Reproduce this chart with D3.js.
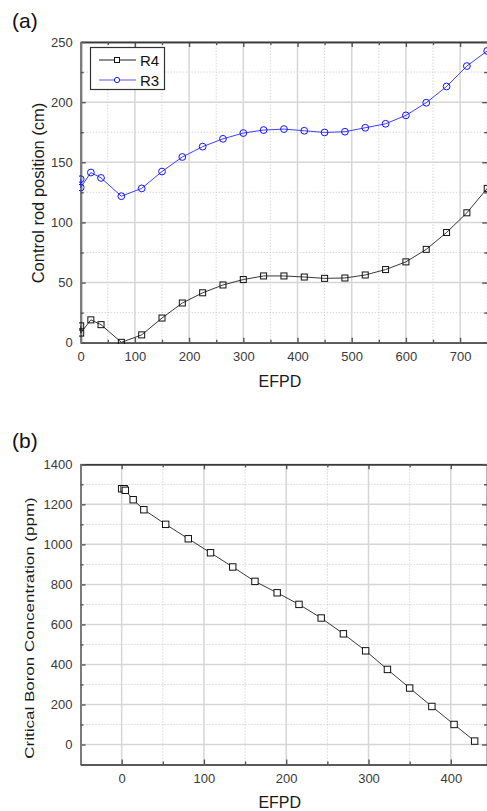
<!DOCTYPE html>
<html>
<head>
<meta charset="utf-8">
<script src="https://cdn.jsdelivr.net/npm/d3@7"></script>
<style>
  body { margin: 0; background: #fff; }
  svg text { font-family: "Liberation Sans", Arial, sans-serif; }
  .tickLbl { fill: #3a3a3a; font-size: 13px; }
  .aTitle { fill: #1a1a1a; font-size: 16px; }
</style>
</head>
<body>
<div id="chart"></div>
<script>
// panel (a) data - control rod positions
var efpdA = [0, 0, 18.75, 37.5, 75, 112.5, 150, 187.5, 225, 262.5, 300, 337.5, 375, 412.5, 450, 487.5, 525, 562.5, 600, 637.5, 675, 712.5, 750];
var r4 = [14, 8, 19, 15, 0.3, 6.5, 20.5, 33, 41.5, 48, 52.5, 55.5, 55.5, 54.6, 53.5, 53.8, 56.3, 60.8, 67.2, 77.6, 91.6, 108, 128.3];
var r3 = [136, 129, 141.5, 137, 121.8, 128.3, 142.3, 154.4, 163, 169.5, 174.3, 176.8, 177.6, 176.2, 174.8, 175.4, 178.7, 182, 189, 199.5, 213, 230, 242.6];

// panel (b) data - critical boron
var efpdB = [0, 3, 4.5, 14, 27, 53.5, 81, 108, 135, 162, 189, 215.5, 242.5, 269.5, 296.5, 323, 350, 377, 404, 429];
var boron = [1278, 1278, 1270, 1223, 1173, 1100, 1028, 958, 887, 815, 758, 700, 632, 553, 468, 375, 282, 190, 100, 17];

var xTicksA = [0, 100, 200, 300, 400, 500, 600, 700];
var xMinorA = [50, 150, 250, 350, 450, 550, 650, 750];
var yTicksA = [0, 50, 100, 150, 200, 250];
var yMinorA = [25, 75, 125, 175, 225];

var xTicksB = [0, 100, 200, 300, 400];
var xMinorB = [-50, 50, 150, 250, 350];
var yTicksB = [0, 200, 400, 600, 800, 1000, 1200, 1400];
var yMinorB = [-100, 100, 300, 500, 700, 900, 1100, 1300];

var svgWidth = 487, svgHeight = 811;

var svg = d3.select("#chart")
  .append("svg")
  .attr("width", svgWidth)
  .attr("height", svgHeight);

function drawFrame(x, y, o) {
  var x0 = x.range()[0], x1 = x.range()[1];
  var y0 = y.range()[0], y1 = y.range()[1];
  var g = svg.append("g");

  // grid
  g.selectAll(".gxm").data(o.xMinor).enter().append("line")
    .attr("x1", d => x(d)).attr("x2", d => x(d)).attr("y1", y0).attr("y2", y1)
    .attr("stroke", "#c4c4c4").attr("stroke-width", 1).attr("stroke-dasharray", "1,2");
  g.selectAll(".gym").data(o.yMinor).enter().append("line")
    .attr("x1", x0).attr("x2", x1).attr("y1", d => y(d)).attr("y2", d => y(d))
    .attr("stroke", "#c4c4c4").attr("stroke-width", 1).attr("stroke-dasharray", "1,2");
  g.selectAll(".gx").data(o.xTicks).enter().append("line")
    .attr("x1", d => x(d)).attr("x2", d => x(d)).attr("y1", y0).attr("y2", y1)
    .attr("stroke", "#d6d6d6").attr("stroke-width", 1.5);
  g.selectAll(".gy").data(o.yTicks).enter().append("line")
    .attr("x1", x0).attr("x2", x1).attr("y1", d => y(d)).attr("y2", d => y(d))
    .attr("stroke", "#d6d6d6").attr("stroke-width", 1.5);

  // axes: major ticks + minor ticks, all pointing inward
  var fmt = d3.format("d");
  var axes = [
    [d3.axisBottom(x).tickValues(o.xTicks).tickSize(-5).tickPadding(9).tickFormat(fmt), `translate(0,${y0})`, true, "#5a5a5a", 1.8],
    [d3.axisBottom(x).tickValues(o.xMinor).tickSize(-3).tickFormat(""), `translate(0,${y0})`, false, "#5a5a5a", 1.8],
    [d3.axisTop(x).tickValues(o.xTicks).tickSize(-5).tickFormat(""), `translate(0,${y1})`, false, "#3a3a3a", 1.4],
    [d3.axisTop(x).tickValues(o.xMinor).tickSize(-3).tickFormat(""), `translate(0,${y1})`, false, "#3a3a3a", 1.4],
    [d3.axisLeft(y).tickValues(o.yTicks).tickSize(-5).tickPadding(8).tickFormat(fmt), `translate(${x0},0)`, true, "#7a7a7a", 2],
    [d3.axisLeft(y).tickValues(o.yMinor).tickSize(-3).tickFormat(""), `translate(${x0},0)`, false, "#7a7a7a", 2],
    [d3.axisRight(y).tickValues(o.yTicks).tickSize(-5).tickFormat(""), `translate(${x1},0)`, false, "#3a3a3a", 1.4],
    [d3.axisRight(y).tickValues(o.yMinor).tickSize(-3).tickFormat(""), `translate(${x1},0)`, false, "#3a3a3a", 1.4]
  ];
  axes.forEach(function(a) {
    var ag = g.append("g").attr("transform", a[1]).call(a[0].tickSizeOuter(0));
    ag.select(".domain").attr("stroke", a[3]).attr("stroke-width", a[4]);
    ag.selectAll(".tick line").attr("stroke", "#555").attr("stroke-width", 1.4);
    if (a[2]) ag.selectAll(".tick text").attr("class", "tickLbl").attr("font-size", null).attr("font-family", null).attr("fill", null);
  });

  // titles
  svg.append("text").attr("class", "aTitle")
    .attr("x", (x0 + x1) / 2 - 4).attr("y", o.xTitleY)
    .attr("text-anchor", "middle").text("EFPD");
  svg.append("text")
    .attr("transform", `translate(${o.yTitleX},${o.yTitleC}) rotate(-90) scale(1,${o.yTitleSq})`)
    .attr("text-anchor", "middle").attr("font-size", o.yTitleSize).attr("fill", "#1a1a1a")
    .text(o.yTitle);
  svg.append("text").attr("x", 12).attr("y", o.tagY)
    .attr("font-size", "21px").attr("fill", "#111").text(o.tag);
}

// ---------- panel (a)
var xA = d3.scaleLinear().domain([0, 750]).range([80.7, 487.2]);
var yA = d3.scaleLinear().domain([0, 250]).range([342.7, 42]);

drawFrame(xA, yA, {
  xTicks: xTicksA, xMinor: xMinorA, yTicks: yTicksA, yMinor: yMinorA,
  xTitleY: 387, yTitleX: 43.5, yTitleC: 193, yTitleSize: "16.5px", yTitleSq: 1,
  yTitle: "Control rod position (cm)", tag: "(a)", tagY: 28
});

var lineA = function(vals) {
  return d3.line().x((d, i) => xA(efpdA[i])).y(d => yA(d))(vals);
};
svg.append("clipPath").attr("id", "clipA").append("rect")
  .attr("x", 79).attr("y", 38).attr("width", 410).attr("height", 306);
var gA = svg.append("g").attr("clip-path", "url(#clipA)");

gA.append("path").attr("d", lineA(r4)).attr("fill", "none").attr("stroke", "#222").attr("stroke-width", 0.9);
gA.append("path").attr("d", lineA(r3)).attr("fill", "none").attr("stroke", "#2a2aff").attr("stroke-width", 0.9);

gA.selectAll(".sq").data(r4).enter().append("rect")
  .attr("x", (d, i) => xA(efpdA[i]) - 3).attr("y", d => yA(d) - 3)
  .attr("width", 6).attr("height", 6)
  .attr("fill", "none").attr("stroke", "#111").attr("stroke-width", 1);
gA.selectAll(".ci").data(r3).enter().append("circle")
  .attr("cx", (d, i) => xA(efpdA[i])).attr("cy", d => yA(d)).attr("r", 3.4)
  .attr("fill", "none").attr("stroke", "#1414ff").attr("stroke-width", 1);

// legend
var leg = svg.append("g");
leg.append("rect").attr("x", 90.5).attr("y", 47.5).attr("width", 74).attr("height", 42)
  .attr("fill", "#fff").attr("stroke", "#333").attr("stroke-width", 1.2);
leg.append("line").attr("x1", 99).attr("x2", 136).attr("y1", 60).attr("y2", 60).attr("stroke", "#222").attr("stroke-width", 1);
leg.append("rect").attr("x", 114.5).attr("y", 57.5).attr("width", 5).attr("height", 5).attr("fill", "#fff").attr("stroke", "#111");
leg.append("line").attr("x1", 99).attr("x2", 136).attr("y1", 80).attr("y2", 80).attr("stroke", "#5555ff").attr("stroke-width", 1);
leg.append("circle").attr("cx", 117).attr("cy", 80).attr("r", 2.6).attr("fill", "#fff").attr("stroke", "#1414ff");
leg.append("text").attr("x", 140).attr("y", 66).attr("font-size", "15px").attr("fill", "#111").text("R4");
leg.append("text").attr("x", 140).attr("y", 86).attr("font-size", "15px").attr("fill", "#111").text("R3");

// ---------- panel (b)
var xB = d3.scaleLinear().domain([-50, 444]).range([80.5, 487]);
var yB = d3.scaleLinear().domain([-100, 1400]).range([764.5, 464.3]);

drawFrame(xB, yB, {
  xTicks: xTicksB, xMinor: xMinorB, yTicks: yTicksB, yMinor: yMinorB,
  xTitleY: 808, yTitleX: 33.5, yTitleC: 628, yTitleSize: "17px", yTitleSq: 0.8,
  yTitle: "Critical Boron Concentration (ppm)", tag: "(b)", tagY: 448
});

var gB = svg.append("g");
gB.append("path")
  .attr("d", d3.line().x((d, i) => xB(efpdB[i])).y(d => yB(d))(boron))
  .attr("fill", "none").attr("stroke", "#222").attr("stroke-width", 0.9);
gB.selectAll(".sq").data(boron).enter().append("rect")
  .attr("x", (d, i) => xB(efpdB[i]) - 3.2).attr("y", d => yB(d) - 3.2)
  .attr("width", 6.4).attr("height", 6.4)
  .attr("fill", "#fff").attr("stroke", "#111").attr("stroke-width", 1);
</script>
</body>
</html>
